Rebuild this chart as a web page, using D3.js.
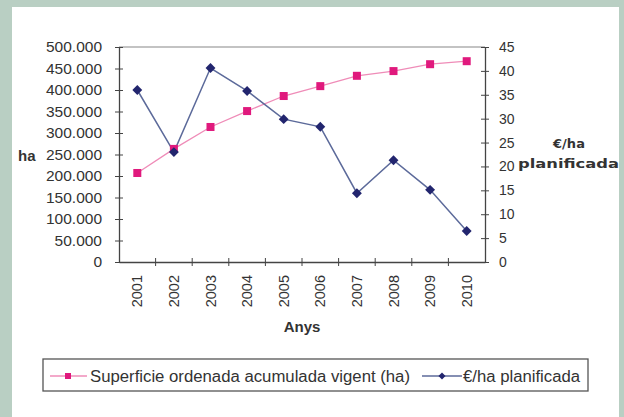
<!DOCTYPE html>
<html>
<head>
<meta charset="utf-8">
<script src="https://d3js.org/d3.v7.min.js"></script>
<style>
  body { margin: 0; background: #b9cfc3; }
  svg { display: block; font-family: "Liberation Sans", Arial, sans-serif; }
</style>
</head>
<body>
<script>
var years = ["2001", "2002", "2003", "2004", "2005", "2006", "2007", "2008", "2009", "2010"];
var superficie = [207000, 263000, 314000, 351000, 386000, 409000, 433000, 444000, 460000, 467000];
var euroHa = [36.0, 23.0, 40.6, 35.8, 29.9, 28.3, 14.4, 21.3, 15.1, 6.5];
var leftTicks = [0, 50000, 100000, 150000, 200000, 250000, 300000, 350000, 400000, 450000, 500000];
var rightTicks = [0, 5, 10, 15, 20, 25, 30, 35, 40, 45];
var seriesNames = ["Superficie ordenada acumulada vigent (ha)", "€/ha planificada"];

var width = 624, height = 417;
var margin = {left: 119, right: 139, top: 47, bottom: 155};

var svg = d3.select("body").append("svg")
    .attr("width", width)
    .attr("height", height);

svg.append("rect")
    .attr("x", 12).attr("y", 7)
    .attr("width", 607).attr("height", 420)
    .attr("fill", "#fff");

var x = d3.scaleBand().domain(years).range([margin.left, width - margin.right]);
var yL = d3.scaleLinear().domain([0, 500000]).range([height - margin.bottom, margin.top]);
var yR = d3.scaleLinear().domain([0, 45]).range([height - margin.bottom, margin.top]);

var fmt = function(d) { return d3.format(",")(d).replace(/,/g, "."); };

// top frame line
svg.append("line")
    .attr("x1", margin.left).attr("x2", width - margin.right)
    .attr("y1", margin.top).attr("y2", margin.top)
    .attr("stroke", "#888").attr("stroke-width", 1.2);

var axL = svg.append("g")
    .attr("transform", "translate(" + margin.left + ",0)")
    .call(d3.axisLeft(yL).tickValues(leftTicks).tickFormat(fmt).tickSize(4).tickSizeOuter(0));
axL.selectAll(".tick line").attr("x2", 4).attr("x1", -4);

var axR = svg.append("g")
    .attr("transform", "translate(" + (width - margin.right) + ",0)")
    .call(d3.axisRight(yR).tickValues(rightTicks).tickSize(4).tickSizeOuter(0));
axR.selectAll(".tick line").attr("x1", -4).attr("x2", 4);

var axB = svg.append("g")
    .attr("transform", "translate(0," + (height - margin.bottom) + ")")
    .call(d3.axisBottom(x).tickSize(0).tickSizeOuter(0));

// ticks between categories
axB.selectAll(".catTick")
    .data(years.slice(1))
    .enter().append("line")
    .attr("x1", function(d) { return x(d); })
    .attr("x2", function(d) { return x(d); })
    .attr("y1", -4).attr("y2", 4)
    .attr("stroke", "#444");

axB.selectAll(".tick text")
    .attr("transform", "rotate(-90)")
    .attr("text-anchor", "end")
    .attr("x", -13).attr("y", 0).attr("dy", "0.35em");

[axL, axR, axB].forEach(function(a) {
    a.select(".domain").attr("stroke", "#444").attr("stroke-width", 1.3);
    a.selectAll(".tick line").attr("stroke", "#444");
    a.selectAll("text").attr("fill", "#333").style("font-size", "15.5px");
});
axB.selectAll("text").style("font-size", "14.5px");
axL.selectAll("text").attr("x", -17);
axR.selectAll("text").attr("x", 14).style("font-size", "14px");

svg.append("text").attr("x", 18).attr("y", 161)
    .style("font-size", "15px").style("font-weight", "bold").attr("fill", "#333")
    .text("ha");
svg.append("text").attr("x", 569).attr("y", 148).attr("text-anchor", "middle")
    .style("font-family", "'DejaVu Sans', Verdana, sans-serif")
    .style("font-size", "13px").style("font-weight", "bold").attr("fill", "#333")
    .text("€/ha");
svg.append("text").attr("x", 518).attr("y", 168)
    .style("font-family", "'DejaVu Sans', Verdana, sans-serif")
    .attr("textLength", 101).attr("lengthAdjust", "spacingAndGlyphs")
    .style("font-size", "13px").style("font-weight", "bold").attr("fill", "#333")
    .text("planificada");
svg.append("text").attr("x", 302).attr("y", 332).attr("text-anchor", "middle")
    .style("font-size", "15px").style("font-weight", "bold").attr("fill", "#333")
    .text("Anys");

var cx = function(d, i) { return x(years[i]) + x.bandwidth() / 2; };

svg.append("path")
    .datum(superficie)
    .attr("fill", "none").attr("stroke", "#ef8cb8").attr("stroke-width", 1.3)
    .attr("d", d3.line().x(cx).y(function(d) { return yL(d); }));

svg.append("path")
    .datum(euroHa)
    .attr("fill", "none").attr("stroke", "#5c6a9a").attr("stroke-width", 1.5)
    .attr("d", d3.line().x(cx).y(function(d) { return yR(d); }));

svg.selectAll(".sq")
    .data(superficie).enter().append("rect")
    .attr("x", function(d, i) { return cx(d, i) - 4; })
    .attr("y", function(d) { return yL(d) - 4; })
    .attr("width", 8).attr("height", 8)
    .attr("fill", "#e0197d");

svg.selectAll(".dm")
    .data(euroHa).enter().append("rect")
    .attr("transform", function(d, i) { return "translate(" + cx(d, i) + "," + yR(d) + ") rotate(45)"; })
    .attr("x", -3.5).attr("y", -3.5).attr("width", 7).attr("height", 7)
    .attr("fill", "#22256e");

// legend
var lg = svg.append("g");
lg.append("rect").attr("x", 43).attr("y", 359).attr("width", 545).attr("height", 32)
    .attr("fill", "#fff").attr("stroke", "#555").attr("stroke-width", 1.3);
lg.append("line").attr("x1", 50).attr("x2", 87).attr("y1", 376).attr("y2", 376)
    .attr("stroke", "#ef8cb8").attr("stroke-width", 1.3);
lg.append("rect").attr("x", 65).attr("y", 373).attr("width", 6).attr("height", 6).attr("fill", "#e0197d");
lg.append("text").attr("x", 90).attr("y", 382).style("font-size", "16px").attr("fill", "#333")
    .attr("textLength", 320).attr("lengthAdjust", "spacingAndGlyphs")
    .text(seriesNames[0]);
lg.append("line").attr("x1", 422).attr("x2", 462).attr("y1", 376).attr("y2", 376)
    .attr("stroke", "#5c6a9a").attr("stroke-width", 1.5);
lg.append("rect").attr("transform", "translate(442,376) rotate(45)")
    .attr("x", -2.5).attr("y", -2.5).attr("width", 5).attr("height", 5).attr("fill", "#22256e");
lg.append("text").attr("x", 463).attr("y", 382).style("font-size", "16px").attr("fill", "#333")
    .attr("textLength", 117).attr("lengthAdjust", "spacingAndGlyphs")
    .text(seriesNames[1]);
</script>
</body>
</html>
